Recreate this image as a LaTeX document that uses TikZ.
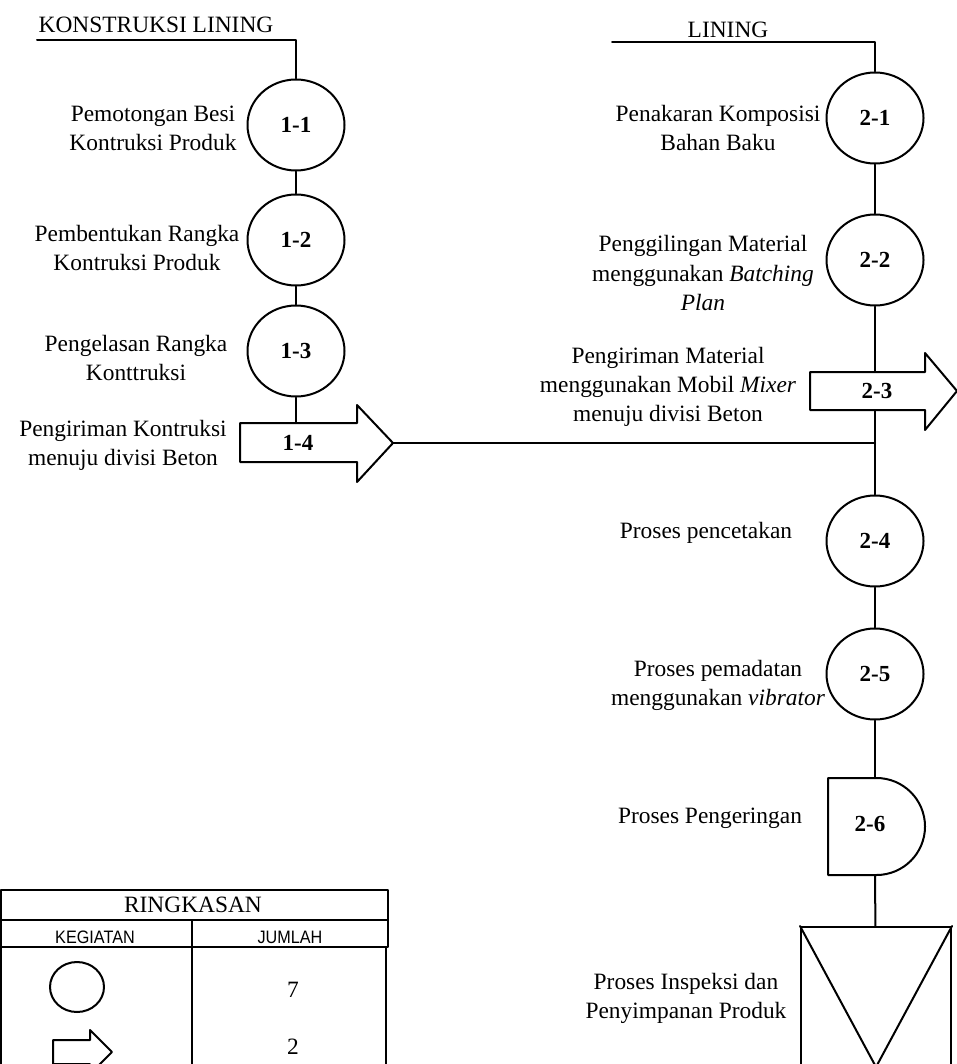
\documentclass[tikz,border=0pt]{standalone}
\usepackage{fontspec}
\setmainfont{Liberation Serif}
\newfontfamily\narrowsf[FakeStretch=0.9]{Liberation Sans}
\usetikzlibrary{shapes.geometric}
\begin{document}
\begin{tikzpicture}[x=0.5pt, y=-0.5pt, line cap=round, line join=round, line width=1pt,
	font=\fontsize{11.7}{14.6}\selectfont,
	proc/.style={ellipse, draw, line width=1pt, minimum width=48.5pt, minimum height=45.5pt, inner sep=0pt, font=\fontsize{11.5}{12}\selectfont\bfseries},
	num/.style={inner sep=1pt, font=\fontsize{11.5}{12}\selectfont\bfseries},
	lbl/.style={align=center, inner sep=0pt},
	tblhd/.style={inner sep=0pt, font=\narrowsf\fontsize{9}{10}\selectfont}]
	\useasboundingbox (0,0) rectangle (957,1064);
	% konstruksi lining
	\node (t1) at (156,25) {KONSTRUKSI LINING};
	\node[proc] (p11) at (296,125) {1-1};
	\node[proc] (p12) at (296,240) {1-2};
	\node[proc] (p13) at (296,351) {1-3};
	\node[num] (p14) at (298,443) {1-4};
	\coordinate (s1) at (37,40);
	\coordinate (a14) at (296,423);
	\coordinate (t14) at (393,443);
	\draw (s1) -| (p11);
	\draw (p11) -- (p12) -- (p13) -- (a14);
	\draw (240,423) -- (357,423) -- (357,405) -- (t14) -- (357,482) -- (357,462) -- (240,462) -- cycle;
	\node[lbl] (l11) at (153,128) {Pemotongan Besi\\Kontruksi Produk};
	\node[lbl] (l12) at (137,248) {Pembentukan Rangka\\Kontruksi Produk};
	\node[lbl] (l13) at (136,358) {Pengelasan Rangka\\Konttruksi};
	\node[lbl] (l14) at (123,445) {Pengiriman Kontruksi\\menuju divisi Beton};
	% lining
	\node (t2) at (728,30) {LINING};
	\node[proc] (p21) at (875,118) {2-1};
	\node[proc] (p22) at (875,260) {2-2};
	\node[num] (p23) at (877,391) {2-3};
	\node[proc] (p24) at (875,541) {2-4};
	\node[proc] (p25) at (875,674) {2-5};
	\node[num] (p26) at (870,824) {2-6};
	\node[draw, minimum width=75pt, minimum height=69.5pt, inner sep=0pt] (p27) at (876,996.5) {};
	\coordinate (s2) at (612,42);
	\coordinate (a23t) at (875,372);
	\coordinate (a23b) at (875,410);
	\coordinate (t23) at (957,391);
	\coordinate (d26t) at (875,778);
	\coordinate (d26b) at (875,875);
	\draw (s2) -| (p21);
	\draw (p21) -- (p22) -- (a23t);
	\draw (a23b) -- (p24) -- (p25) -- (d26t);
	\draw (d26b) -- (p27);
	\draw (t14) -- (t14 -| p24);
	\draw (810,372) -- (925,372) -- (925,353) -- (t23) -- (925,430) -- (925,410) -- (810,410) -- cycle;
	\draw (828,778) -- (876.5,778) arc[start angle=-90, end angle=90, radius=48.5] -- (828,875) -- cycle;
	\draw (p27.north west) -- (p27.south) -- (p27.north east);
	\node[lbl] (l21) at (718,128) {Penakaran Komposisi\\Bahan Baku};
	\node[lbl] (l22) at (703,273) {Penggilingan Material\\menggunakan \textit{Batching}\\\textit{Plan}};
	\node[lbl] (l23) at (668,387) {Pengiriman Material\\menggunakan Mobil \textit{Mixer}\\menuju divisi Beton};
	\node[lbl] (l24) at (706,533) {Proses pencetakan};
	\node[lbl] (l25) at (718,685) {Proses pemadatan\\menggunakan \textit{vibrator}};
	\node[lbl] (l26) at (710,818) {Proses Pengeringan};
	\node[lbl] (l27) at (686,998) {Proses Inspeksi dan\\Penyimpanan Produk};
	% ringkasan
	\draw (1,890) rectangle (388,920);
	\draw (1,920) rectangle (388,947);
	\draw (192,920) -- (192,1070);
	\draw (1,947) -- (1,1070);
	\draw (386,947) -- (386,1070);
	\node (rk) at (193,905) {RINGKASAN};
	\node[tblhd] (kg) at (95,937) {KEGIATAN};
	\node[tblhd] (jm) at (290,937) {JUMLAH};
	\node[ellipse, draw, minimum width=27pt, minimum height=25pt] (sym1) at (77,987) {};
	\draw (53,1040) -- (90,1040) -- (90,1030) -- (112,1052) -- (90,1074) -- (90,1064) -- (53,1064) -- cycle;
	\node (n1) at (293,990) {7};
	\node (n2) at (293,1047) {2};
\end{tikzpicture}
\end{document}
